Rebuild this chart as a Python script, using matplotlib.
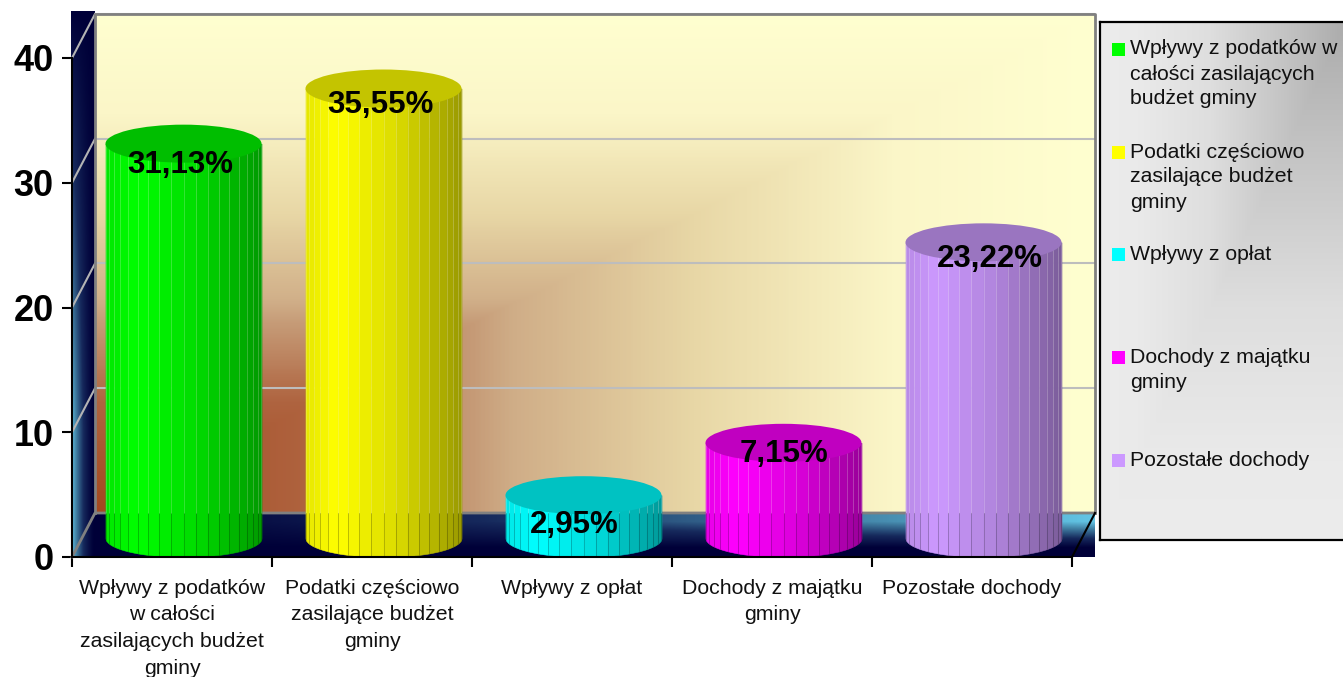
#!/usr/bin/env python3
# 3D-look cylinder column chart, drawn flat in matplotlib (one full-figure axes
# whose data scale is the chart's own value / category scale).
import numpy as np
import matplotlib
matplotlib.use("Agg")
import matplotlib.pyplot as plt
from matplotlib.colors import LinearSegmentedColormap, to_rgb
from matplotlib.patches import Ellipse, Rectangle

plt.rcParams["font.family"] = ["Liberation Sans", "DejaVu Sans"]

# --- data -------------------------------------------------------------------
CATEGORIES = ["Wpływy z podatków\nw całości\nzasilających budżet\ngminy",
              "Podatki częściowo\nzasilające budżet\ngminy",
              "Wpływy z opłat",
              "Dochody z majątku\ngminy",
              "Pozostałe dochody"]
VALUES = [31.13, 35.55, 2.95, 7.15, 23.22]
COLORS = ["#00FF00", "#FFFF00", "#00FFFF", "#FF00FF", "#CC99FF"]
TOP_COLORS = ["#00BE00", "#C4C400", "#00C2C2", "#C000C0", "#9A75C0"]
YTICKS = [0, 10, 20, 30, 40]
LEGEND_LABELS = ["Wpływy z podatków w\ncałości zasilających\nbudżet gminy",
                 "Podatki częściowo\nzasilające budżet\ngminy",
                 "Wpływy z opłat",
                 "Dochody z majątku\ngminy",
                 "Pozostałe dochody"]

# --- scale: pixels per category / per value unit ----------------------------
W, H = 1343, 677
X0, Y0 = 72, 557
PX_X, PX_Y = 200.0, 12.475
DEPTH_X, DEPTH_Y = 23 / PX_X, 44 / PX_Y   # back wall offset
WALL_TOP = 40 + DEPTH_Y
WALL_RIGHT = 5 + DEPTH_X

BAR_W = 156 / PX_X
BAR_SHIFT = 11.5 / PX_X
ELL_H = 38 / PX_Y
BASE = 19 / PX_Y    # centre of the bottom ellipse
LIFT = 25 / PX_Y    # where a value of zero would put the top ellipse
LABEL_DX = [8 / PX_X, 8 / PX_X, 2 / PX_X, 12 / PX_X, 18 / PX_X]
LABEL_DY = [21 / PX_Y, 16 / PX_Y, 30 / PX_Y, 11 / PX_Y, 17 / PX_Y]

WALL_CMAP = LinearSegmentedColormap.from_list("wall", [
    (0.0, "#A4481F"), (0.22, "#AF6440"), (0.38, "#C69C78"), (0.42, "#D0AE88"),
    (0.6, "#E8D7A6"), (0.8, "#FBF6C8"), (1.0, "#FFFFD0")])
BLUE_CMAP = LinearSegmentedColormap.from_list("blue", [
    (0.0, "#000038"), (0.35, "#16295C"), (0.7, "#3F7CA0"), (1.0, "#62C4E4")])
GREY_CMAP = LinearSegmentedColormap.from_list("grey", [
    (0.0, "#ACACAC"), (0.25, "#C4C4C4"), (0.55, "#DEDEDE"), (0.85, "#EAEAEA"), (1.0, "#ECECEC")])


def back_wall(ax):
    u, v = np.meshgrid(np.linspace(0, 1, 500), np.linspace(0, 1, 250))
    t = np.maximum(u, v)
    ax.imshow(t, cmap=WALL_CMAP, vmin=0, vmax=1, origin="lower", aspect="auto",
              extent=(DEPTH_X, WALL_RIGHT, DEPTH_Y, WALL_TOP), zorder=1)


def side_wall(ax):
    u, v = np.meshgrid(np.linspace(0, 1, 24), np.linspace(0, 1, 300))
    t = (1 - u) ** 1.4 * np.clip(1.3 - 1.3 * v, 0, 1) ** 0.9
    ax.imshow(t, cmap=BLUE_CMAP, vmin=0, vmax=1, origin="lower", aspect="auto",
              extent=(-0.005, DEPTH_X, 0, 43.7), zorder=1)


def floor(ax):
    u, v = np.meshgrid(np.linspace(0, 1, 500), np.linspace(0, 1, 44))
    t = u ** 1.1 * np.clip(v * 1.7 - 0.35, 0, 1)
    ax.imshow(t, cmap=BLUE_CMAP, vmin=0, vmax=1, origin="lower", aspect="auto",
              extent=(DEPTH_X, WALL_RIGHT, 0, DEPTH_Y), zorder=1)


def frame(ax):
    grey = "#808080"
    for v in YTICKS[1:]:
        ax.plot([DEPTH_X, WALL_RIGHT], [v + DEPTH_Y] * 2, color="#BDBDBD",
                lw=1.5, zorder=2, solid_capstyle="butt")
        ax.plot([0, DEPTH_X], [v, v + DEPTH_Y], color="#B4B4B4", lw=1.5, zorder=2)
    ax.plot([DEPTH_X, DEPTH_X, WALL_RIGHT, WALL_RIGHT],
            [DEPTH_Y, WALL_TOP, WALL_TOP, DEPTH_Y], color=grey, lw=2, zorder=2)
    ax.plot([0, DEPTH_X, WALL_RIGHT], [0, DEPTH_Y, DEPTH_Y], color=grey, lw=2, zorder=2)
    ax.plot([5, WALL_RIGHT], [0, DEPTH_Y], color="black", lw=1.5, zorder=2)


def cylinder(ax, i, value, color, top_color, n=20):
    cx = i + 0.5 + BAR_SHIFT
    a = BAR_W / 2
    b = ELL_H / 2
    top = value + LIFT
    theta = np.linspace(np.pi, 0, n + 1)
    edges = cx + a * np.cos(theta)
    rgb = np.array(to_rgb(color))
    z = 5 + i
    for k in range(n):
        xs = np.linspace(edges[k], edges[k + 1], 6)
        low = BASE - b * np.sqrt(np.clip(1 - ((xs - cx) / a) ** 2, 0, 1))
        mid = ((edges[k] + edges[k + 1]) / 2 - cx + a) / BAR_W
        shade = np.interp(mid, [0, 0.2, 0.6, 1], [0.9, 1.0, 0.85, 0.6])
        c = rgb * shade
        ax.fill_between(xs, low, top, color=c, lw=0.4, zorder=z)
    for x in edges[1:-1]:
        low = BASE - b * np.sqrt(max(1 - ((x - cx) / a) ** 2, 0))
        ax.plot([x, x], [DEPTH_Y, top], color="white", alpha=0.2, lw=0.7, zorder=z)
        ax.plot([x, x], [low, min(DEPTH_Y, top)], color="black", alpha=0.2, lw=0.7, zorder=z)
    ax.add_patch(Ellipse((cx, top), BAR_W, ELL_H, facecolor=top_color,
                         edgecolor="none", zorder=z))


def legend_box(fig):
    left = 1100
    lax = fig.add_axes([left / W, (H - 540) / H, (W + 3 - left) / W, (540 - 22) / H])
    lax.set_xlim(left, W + 3)
    lax.set_ylim(540, 22)
    u, v = np.meshgrid(np.linspace(0, 1, 240), np.linspace(0, 1, 260))
    t = np.maximum(1 - u, v)
    lax.imshow(t, cmap=GREY_CMAP, vmin=0, vmax=1, aspect="auto", zorder=0,
               extent=(left, W + 3, 540, 22))
    lax.set_xticks([])
    lax.set_yticks([])
    for s in lax.spines.values():
        s.set_linewidth(1.6)
        s.set_color("black")
    centres = [74, 177, 254, 370, 460]
    for lab, col, yc in zip(LEGEND_LABELS, COLORS, centres):
        first = yc - 12.5 * lab.count("\n")
        lax.add_patch(Rectangle((1112, first - 6.5), 13, 13, facecolor=col, edgecolor="none"))
        lax.text(1130, yc, lab, fontsize=15.3, va="center", ha="left", color="#111111",
                 linespacing=1.4)


def main():
    fig = plt.figure(figsize=(W / 100, H / 100), dpi=100, facecolor="white")
    ax = fig.add_axes([0, 0, 1, 1], facecolor="none")

    back_wall(ax)
    side_wall(ax)
    floor(ax)
    frame(ax)

    for i, (v, c, tc) in enumerate(zip(VALUES, COLORS, TOP_COLORS)):
        cylinder(ax, i, v, c, tc)
    for i, v in enumerate(VALUES):
        ax.text(i + 0.5 + LABEL_DX[i], v + LIFT - LABEL_DY[i], f"{v:.2f}%".replace(".", ","),
                fontsize=22.5, weight="bold", ha="center", va="center", zorder=20)

    ax.set_xlim(-X0 / PX_X, (W - X0) / PX_X)
    ax.set_ylim((Y0 - H) / PX_Y, Y0 / PX_Y)

    for s in ("top", "right"):
        ax.spines[s].set_visible(False)
    ax.spines["left"].set_position(("data", 0))
    ax.spines["bottom"].set_position(("data", 0))
    ax.spines["left"].set_bounds(0, 40)
    ax.spines["bottom"].set_bounds(0, 5)
    ax.spines["left"].set_linewidth(1.5)
    ax.spines["bottom"].set_linewidth(1.5)
    ax.spines["left"].set_zorder(30)
    ax.spines["bottom"].set_zorder(30)

    ax.set_yticks(YTICKS)
    ax.set_yticklabels([str(v) for v in YTICKS], fontsize=26, weight="bold")
    ax.tick_params(axis="y", length=7.2, width=1.5, pad=6)
    ax.set_xticks(range(6))
    ax.set_xticklabels([])
    ax.set_xticks([i + 0.5 for i in range(5)], minor=True)
    ax.set_xticklabels(CATEGORIES, minor=True, fontsize=15.3, linespacing=1.53,
                       color="#111111", va="top")
    ax.tick_params(axis="x", which="major", length=7.2, width=1.5)
    ax.tick_params(axis="x", which="minor", length=0, pad=15.5)

    legend_box(fig)
    fig.savefig("out.png", dpi=100, facecolor="white")


if __name__ == "__main__":
    main()
